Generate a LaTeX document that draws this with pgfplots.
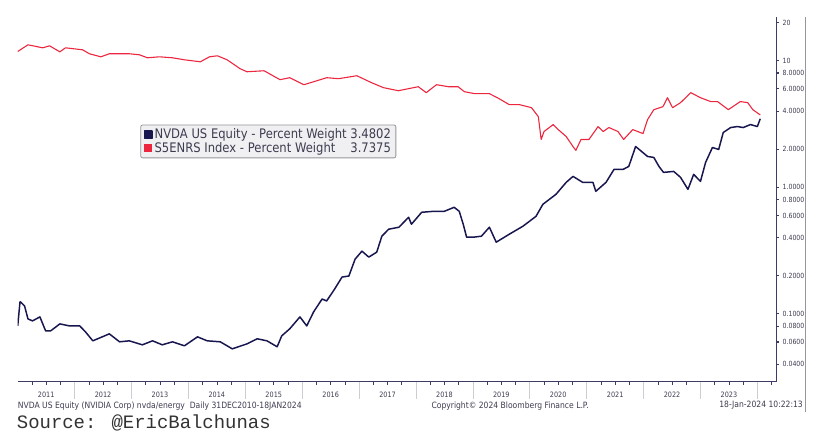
\documentclass[border=0pt]{standalone}
\usepackage{pgfplots}
\pgfplotsset{compat=1.18}
\usepackage{fontspec}
\setmainfont{DejaVu Sans}[FakeStretch=0.88]
\newfontfamily\monofont{Liberation Mono}
\definecolor{nvda}{RGB}{24,22,78}
\definecolor{enrs}{RGB}{236,38,62}
\definecolor{axiscol}{RGB}{60,60,100}
\definecolor{txtcol}{RGB}{60,60,80}
\definecolor{sepcol}{RGB}{205,205,212}
\definecolor{legfill}{RGB}{240,240,242}
\definecolor{legdraw}{RGB}{150,150,155}
\newlength\legw
\newcommand\legfont{\fontsize{13.2bp}{15bp}\selectfont}
\pgfplotsset{
  sqlegend/.style={legend image code/.code={\fill[##1, sharp corners] (0bp,-3.8bp) rectangle (7.5bp,3.8bp);}},
}
\begin{document}
\settowidth\legw{\legfont NVDA US Equity - Percent Weight 3.4802}
\begin{tikzpicture}
\begin{axis}[
  at={(0,0)}, anchor=south west,
  scale only axis, width=761bp, height=366bp,
  xmin=2011, xmax=2024.33,
  ymode=log, ymin=0.02914, ymax=22.2,
  axis x line*=bottom, axis y line*=right,
  axis line style={axiscol, line width=0.8pt},
  xtick={2011.5,2012.5,2013.5,2014.5,2015.5,2016.5,2017.5,2018.5,2019.5,2020.5,2021.5,2022.5,2023.5},
  xticklabels={2011,2012,2013,2014,2015,2016,2017,2018,2019,2020,2021,2022,2023},
  major x tick style={draw=none},
  minor xtick={2011.25,2011.5,2011.75,2012,2012.25,2012.5,2012.75,2013,2013.25,2013.5,2013.75,2014,2014.25,2014.5,2014.75,2015,2015.25,2015.5,2015.75,2016,2016.25,2016.5,2016.75,2017,2017.25,2017.5,2017.75,2018,2018.25,2018.5,2018.75,2019,2019.25,2019.5,2019.75,2020,2020.25,2020.5,2020.75,2021,2021.25,2021.5,2021.75,2022,2022.25,2022.5,2022.75,2023,2023.25,2023.5,2023.75,2024,2024.25},
  minor x tick style={axiscol, line width=0.6pt},
  minor tick length=3bp,
  tick align=outside,
  xticklabel style={font=\fontsize{7.4bp}{8bp}\selectfont, text=txtcol, yshift=-4bp},
  ytick={0.04,0.06,0.08,0.1,0.2,0.4,0.6,0.8,1,2,4,6,8,10,20},
  yticklabels={0.0400,0.0600,0.0800,0.1000,0.2000,0.4000,0.6000,0.8000,1.0000,2.0000,4.0000,6.0000,8.0000,10,20},
  yminorticks=false,
  major tick length=3bp,
  ytick style={axiscol, line width=1.1pt},
  yticklabel style={font=\fontsize{7.1bp}{8bp}\selectfont, text=txtcol},
  legend style={at={(0.1616,0.7049)}, anchor=north west,
    fill=legfill, draw=legdraw, line width=0.8pt, rounded corners=2bp,
    font=\legfont, text=txtcol, inner xsep=3bp, inner ysep=2bp, row sep=-2bp},
  legend cell align=left,
  sqlegend,
]
\addplot[nvda, line width=1.5pt, line join=round] coordinates {
(2011.00,0.0804) (2011.04,0.1243) (2011.05,0.1243) (2011.12,0.1156) (2011.18,0.0913)
(2011.26,0.0881) (2011.39,0.0947) (2011.49,0.0735) (2011.58,0.0735) (2011.74,0.0834)
(2011.91,0.0804) (2012.09,0.0804) (2012.19,0.0722) (2012.32,0.0613) (2012.61,0.0696)
(2012.79,0.0602) (2012.96,0.0613) (2013.19,0.0570) (2013.37,0.0613) (2013.54,0.0570)
(2013.72,0.0602) (2013.93,0.0560) (2014.16,0.0659) (2014.33,0.0613) (2014.56,0.0602)
(2014.77,0.0530) (2015.03,0.0580) (2015.21,0.0636) (2015.38,0.0613) (2015.56,0.0550)
(2015.64,0.0671) (2015.78,0.0762) (2015.96,0.0947) (2016.08,0.0804) (2016.20,0.1037)
(2016.35,0.1312) (2016.43,0.1266) (2016.57,0.1573) (2016.70,0.1956) (2016.82,0.1992)
(2016.93,0.2710) (2017.05,0.3134) (2017.17,0.2811) (2017.31,0.3077) (2017.40,0.4113)
(2017.52,0.4670) (2017.70,0.4842) (2017.87,0.5803) (2017.92,0.5113) (2018.10,0.6354)
(2018.32,0.6472) (2018.50,0.6472) (2018.67,0.6957) (2018.76,0.6472) (2018.83,0.5113)
(2018.89,0.4039) (2019.01,0.4039) (2019.15,0.4113) (2019.29,0.4842) (2019.41,0.3689)
(2019.64,0.4265) (2019.88,0.4931) (2020.11,0.5909) (2020.23,0.7348) (2020.46,0.8809)
(2020.64,1.095) (2020.76,1.221) (2020.93,1.095) (2021.11,1.095) (2021.16,0.930)
(2021.34,1.095) (2021.48,1.386) (2021.64,1.386) (2021.74,1.464) (2021.86,2.103)
(2022.07,1.754) (2022.18,1.723) (2022.27,1.464) (2022.35,1.313) (2022.53,1.336)
(2022.65,1.199) (2022.78,0.964) (2022.88,1.266) (2023.00,1.115) (2023.09,1.574)
(2023.21,2.065) (2023.32,1.992) (2023.40,2.711) (2023.53,2.968) (2023.65,3.022)
(2023.75,2.968) (2023.88,3.134) (2024.00,3.022) (2024.05,3.4802)
};
\addlegendentry{\hbox to\legw{NVDA US Equity - Percent Weight\hfill 3.4802}}
\addplot[enrs, line width=1.1pt, line join=round] coordinates {
(2011.00,11.84) (2011.18,13.37) (2011.44,12.66) (2011.56,13.13) (2011.74,11.77)
(2011.84,12.66) (2012.14,12.21) (2012.26,11.36) (2012.46,10.75) (2012.61,11.36)
(2012.96,11.36) (2013.14,11.15) (2013.28,10.56) (2013.49,10.75) (2013.72,10.56)
(2013.93,10.18) (2014.21,9.82) (2014.37,10.75) (2014.51,10.95) (2014.68,10.18)
(2014.91,8.65) (2015.03,8.19) (2015.33,8.34) (2015.61,7.09) (2015.78,7.35)
(2016.03,6.47) (2016.20,6.83) (2016.43,7.35) (2016.64,7.22) (2016.96,7.62)
(2017.22,6.71) (2017.43,6.13) (2017.69,5.80) (2018.04,6.24) (2018.18,5.60)
(2018.36,6.47) (2018.57,6.24) (2018.74,6.24) (2018.85,5.70) (2019.03,5.50)
(2019.29,5.50) (2019.46,5.02) (2019.64,4.50) (2019.82,4.50) (2020.03,4.26)
(2020.15,3.62) (2020.20,2.39) (2020.25,2.76) (2020.41,3.13) (2020.50,2.86)
(2020.64,2.52) (2020.76,2.10) (2020.81,1.96) (2020.90,2.39) (2021.04,2.39)
(2021.20,3.02) (2021.29,2.76) (2021.39,2.97) (2021.55,2.76) (2021.65,2.39)
(2021.81,2.86) (2021.99,2.66) (2022.07,3.43) (2022.18,4.11) (2022.34,4.34)
(2022.42,5.11) (2022.51,4.26) (2022.65,4.67) (2022.83,5.60) (2023.00,5.11)
(2023.18,4.76) (2023.30,4.76) (2023.49,4.11) (2023.70,4.76) (2023.83,4.67)
(2023.92,4.11) (2024.05,3.7375)
};
\addlegendentry{\hbox to\legw{S5ENRS Index - Percent Weight\hfill 3.7375}}
\end{axis}
\foreach \k in {1,...,13}{
  \draw[sepcol, line width=0.8pt] ({57.08bp*\k+0.1bp},0bp) -- ++(0,-17bp);
}
\draw[legdraw, line width=0.8pt] (790bp,366bp) -- (790bp,-30bp);
\begin{scope}[every node/.style={text=txtcol, inner sep=0pt, font=\fontsize{8.7bp}{10bp}\selectfont}]
\node[anchor=west] at (0bp,-24bp) {NVDA US Equity (NVIDIA Corp) nvda/energy\ \ Daily 31DEC2010-18JAN2024};
\node[anchor=west] at (415bp,-24bp) {Copyright\textcopyright\ 2024 Bloomberg Finance L.P.};
\node[anchor=east] at (788bp,-24bp) {18-Jan-2024 10:22:13};
\end{scope}
\node[anchor=base west, inner sep=0pt, text=black!80, font=\monofont\fontsize{19bp}{22bp}\selectfont] at (-1bp,-47bp) {Source: @EricBalchunas};
\pgfresetboundingbox
\path[use as bounding box] (-15bp,-61bp) rectangle (803bp,383bp);
\end{tikzpicture}
\end{document}
